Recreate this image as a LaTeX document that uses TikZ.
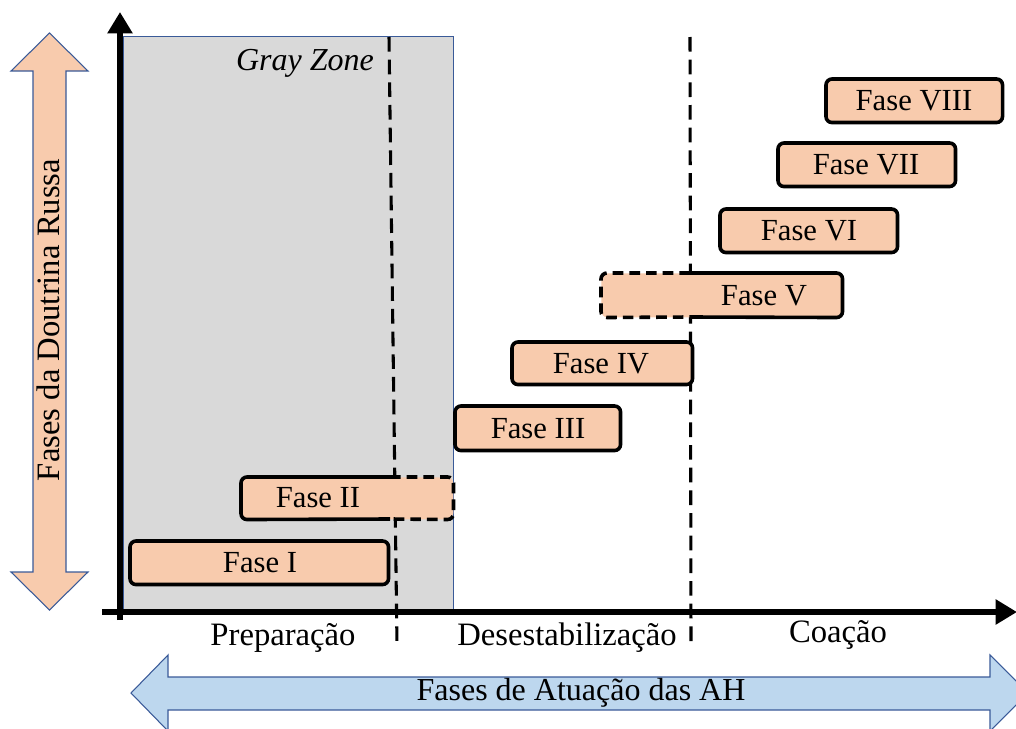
\documentclass[tikz,border=0pt]{standalone}
\usepackage{fontspec}
\setmainfont{Liberation Serif}
\usetikzlibrary{arrows.meta}
\definecolor{fasefill}{HTML}{F8CBAD}
\definecolor{grayfill}{HTML}{D9D9D9}
\definecolor{bluefill}{HTML}{BDD7EE}
\definecolor{edgeblue}{HTML}{3A5A98}
\tikzset{
  lbl/.style={font=\fontsize{23}{27}\selectfont, inner sep=0pt},
  biglbl/.style={font=\fontsize{24.5}{29}\selectfont, inner sep=0pt},
  fasebox/.style={fill=fasefill, draw=none, rounded corners=4.5pt, inner sep=0pt},
  faseedge/.style={draw=black, line width=2.7pt, rounded corners=4.5pt},
  fasedash/.style={draw=black, line width=2.7pt, rounded corners=4.5pt, dash pattern=on 8pt off 4.5pt},
  divider/.style={draw=black, line width=2.3pt, dash pattern=on 11pt off 6pt},
  axis/.style={draw=black, line width=4.5pt, -{Triangle[length=16pt,width=18pt]}},
  bigarrow/.style={draw=edgeblue, line width=0.8pt},
}
\begin{document}
\begin{tikzpicture}[x=0.75pt,y=-0.75pt]
\useasboundingbox (0,0) rectangle (1016,728);
% gray zone
\node[draw=edgeblue, line width=0.75pt, fill=grayfill, minimum width=330*0.75pt, minimum height=574*0.75pt, inner sep=0pt, anchor=north west] (gz) at (123,36) {};
\node[inner sep=0pt, font=\fontsize{24}{28}\selectfont\itshape] (gzt) at (305,63) {Gray Zone};
% dividers
\coordinate (d1t) at (389,37);
\coordinate (d1b) at (397,645);
\coordinate (d2t) at (690,37);
\coordinate (d2b) at (691,645);
\draw[divider] (d1t) -- (d1b);
\draw[divider] (d2t) -- (d2b);
% axes
\coordinate (o) at (120,620);
\coordinate (ytop) at (120,12);
\coordinate (xl) at (102,612);
\coordinate (xr) at (1017,612);
\draw[axis] (o) -- (ytop);
\draw[axis] (xl) -- (xr);
% vertical orange double arrow
\draw[bigarrow, fill=fasefill] (49.5,33) -- (88,71) -- (66,71) -- (66,572) -- (88,572) -- (49.5,610) -- (11,572) -- (33,572) -- (33,71) -- (11,71) -- cycle;
\node[biglbl, rotate=90] (yl) at (48,320) {Fases da Doutrina Russa};
% horizontal blue double arrow
\draw[bigarrow, fill=bluefill] (131,693) -- (168,655) -- (168,677) -- (990,677) -- (990,655) -- (1028,693) -- (990,731) -- (990,710) -- (168,710) -- (168,731) -- cycle;
\node[biglbl, font=\fontsize{24}{28}\selectfont] (xlab) at (581,693) {Fases de Atuação das AH};
% phase labels
\node[biglbl] (p1) at (283,638) {Preparação};
\node[biglbl] (p2) at (567,638) {Desestabilização};
\node[biglbl] (p3) at (838,635) {Coação};
% Fase I
\node[fasebox, minimum width=258*0.75pt, minimum height=43*0.75pt, anchor=north west] (f1) at (130,541) {};
\draw[faseedge] (f1.north west) rectangle (f1.south east);
\node[lbl] at (260,563) {Fase I};
% Fase II
\node[fasebox, minimum width=212*0.75pt, minimum height=42*0.75pt, anchor=north west] (f2) at (241,477) {};
\draw[faseedge] (390,477) -- (f2.north west) -- (f2.south west) -- (390,519);
\draw[fasedash] (390,477) -- (f2.north east) -- (f2.south east) -- (390,519);
\node[lbl] at (318,498) {Fase II};
% Fase III
\node[fasebox, minimum width=165*0.75pt, minimum height=44*0.75pt, anchor=north west] (f3) at (455,406) {};
\draw[faseedge] (f3.north west) rectangle (f3.south east);
\node[lbl] at (538,429) {Fase III};
% Fase IV
\node[fasebox, minimum width=180*0.75pt, minimum height=42*0.75pt, anchor=north west] (f4) at (512,342) {};
\draw[faseedge] (f4.north west) rectangle (f4.south east);
\node[lbl] at (601,364) {Fase IV};
% Fase V
\node[fasebox, minimum width=241*0.75pt, minimum height=44*0.75pt, anchor=north west] (f5) at (601,273) {};
\draw[fasedash] (690,273) -- (f5.north west) -- (f5.south west) -- (690,317);
\draw[faseedge] (690,273) -- (f5.north east) -- (f5.south east) -- (690,317);
\node[lbl] at (764,296) {Fase V};
% Fase VI
\node[fasebox, minimum width=177*0.75pt, minimum height=43*0.75pt, anchor=north west] (f6) at (720,209) {};
\draw[faseedge] (f6.north west) rectangle (f6.south east);
\node[lbl] at (809,231) {Fase VI};
% Fase VII
\node[fasebox, minimum width=177*0.75pt, minimum height=43*0.75pt, anchor=north west] (f7) at (778,143) {};
\draw[faseedge] (f7.north west) rectangle (f7.south east);
\node[lbl] at (866,165) {Fase VII};
% Fase VIII
\node[fasebox, minimum width=176*0.75pt, minimum height=43*0.75pt, anchor=north west] (f8) at (826,79) {};
\draw[faseedge] (f8.north west) rectangle (f8.south east);
\node[lbl] at (914,101) {Fase VIII};
\end{tikzpicture}
\end{document}
